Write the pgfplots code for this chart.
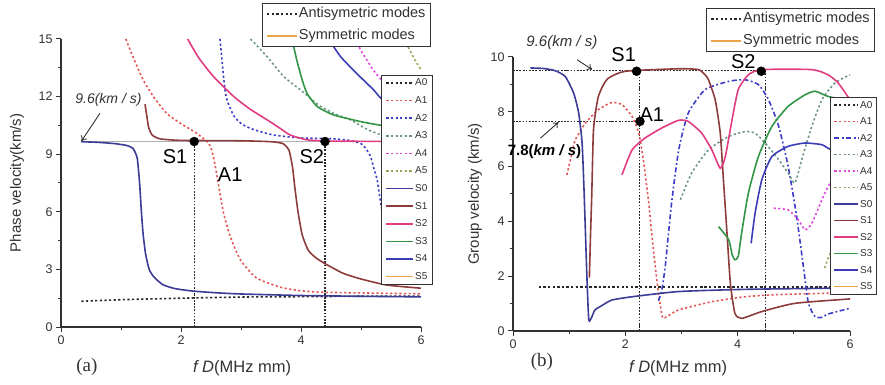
\documentclass[border=0pt]{standalone}
\usepackage{pgfplots}
\pgfplotsset{compat=1.18}
\usetikzlibrary{arrows.meta}
\usepackage{fontspec}
\setmainfont{Liberation Sans}
\newfontfamily\seriffont{Liberation Serif}

\definecolor{cA0}{RGB}{40,40,40}
\definecolor{cA1}{RGB}{228,85,85}
\definecolor{cA2}{RGB}{60,60,200}
\definecolor{cA3}{RGB}{110,150,135}
\definecolor{cA4}{RGB}{225,70,220}
\definecolor{cA5}{RGB}{160,160,90}
\definecolor{cS0}{RGB}{60,60,150}
\definecolor{cS1}{RGB}{140,60,60}
\definecolor{cS2}{RGB}{225,60,130}
\definecolor{cS3}{RGB}{50,150,70}
\definecolor{cS4}{RGB}{60,60,185}
\definecolor{cS5}{RGB}{235,165,70}
\definecolor{axc}{RGB}{50,50,50}

\tikzset{dotsty/.style={line width=1.6pt, dash pattern=on 2.2pt off 2.4pt},
         dashdot/.style={line width=1.6pt, dash pattern=on 5pt off 2.5pt on 1.8pt off 2.5pt},
         solsty/.style={line width=1.6pt},
         guide/.style={line width=1.1pt, black!85, dash pattern=on 1.6pt off 1.6pt}}

\pgfplotsset{myaxis/.style={scale only axis, axis x line*=bottom, axis y line*=left,
   tick align=outside, clip=false,
   axis line style={line width=1.1pt, color=axc, -},
   major tick length=5pt, minor tick length=3pt,
   every tick/.style={line width=1pt, axc},
   tick label style={font=\fontsize{12.5}{13}\selectfont, color=axc},
   /pgf/number format/assume math mode=true,
   xlabel style={font=\fontsize{16.5}{18}\selectfont, color=axc},
   ylabel style={font=\fontsize{15}{16}\selectfont, color=axc},
   minor x tick num=1, minor y tick num=1,
   xmin=0, xmax=6, xtick={0,2,4,6},
   legend cell align=left},
  toplegend/.style={hide axis, scale only axis, xmin=0, xmax=1, ymin=0, ymax=1,
   legend cell align=left,
   legend image code/.code={\draw[##1] (0pt,0pt) -- (30pt,0pt);},
   legend style={draw=axc, line width=1pt, fill=white, font=\fontsize{14.5}{15}\selectfont,
     inner xsep=4pt, inner ysep=3pt, row sep=6.5pt, anchor=north west,
     nodes={inner sep=1pt, text height=10.5pt, text depth=3pt, text=axc}}}}

\begin{document}
\begin{tikzpicture}
\useasboundingbox (0,0) rectangle (885pt,385pt);

%%%%%%%%%%%%%%%% (a) phase velocity
\begin{axis}[myaxis, at={(61pt,58pt)}, anchor=south west, width=360pt, height=288pt,
  ymin=0, ymax=15, ytick={0,3,6,9,12,15},
  xlabel={\textit{f D}(MHz mm)}, ylabel={Phase velocity(km/s)},
  xlabel style={at={(axis description cs:0.503,-0.142)}, anchor=center},
  ylabel style={at={(axis description cs:-0.122,0.5)}, anchor=center},
  every axis plot/.append style={smooth, tension=0.35},
  legend image code/.code={\draw[#1] (0pt,0pt) -- (27pt,0pt);},
  legend style={at={(0.889,0.875)}, anchor=north west, draw=axc, line width=1pt, fill=white,
    font=\fontsize{10}{11}\selectfont, inner xsep=4pt, inner ysep=2pt, row sep=6.6pt,
    nodes={inner sep=1pt, text height=7.5pt, text depth=1.5pt, text=axc}}]
\addplot[gray!60, line width=1.2pt, forget plot] coordinates {(0.34,9.66) (6,9.66)};
\addplot[guide, forget plot] coordinates {(2.22,0) (2.22,9.66)};
\addplot[guide, forget plot] coordinates {(4.4,0) (4.4,9.66)};
% A0
\addplot[cA0, dotsty] coordinates {(0.34,1.34) (1,1.42) (2,1.5) (3,1.56) (4,1.58) (5,1.6) (6,1.6)};
\addlegendentry{A0}
% A1
\addplot[cA1, dotsty] coordinates {(1.08,15.0) (1.21,13.99) (1.37,12.87) (1.54,12.0) (1.76,11.13) (1.99,10.61) (2.26,10.09) (2.46,9.57) (2.54,8.88) (2.63,7.32) (2.71,5.93) (2.82,4.72) (2.99,3.5) (3.26,2.55) (3.71,2.03) (4.27,1.82) (6.0,1.73)};
\addlegendentry{A1}
% A2
\addplot[cA2, dotsty] coordinates {(2.65,15) (2.68,14) (2.71,13.0) (2.74,12.2) (2.78,11.7) (2.88,11.0) (3.0,10.6) (3.15,10.35) (3.35,10.15) (3.54,10.0) (3.8,9.9) (4.0,9.85) (4.54,9.8) (4.8,9.72) (4.99,9.57) (5.08,9.3) (5.16,8.88) (5.22,8.2) (5.27,7.66) (5.32,6.62) (5.36,5.9) (5.45,4.6) (5.6,3.4) (5.8,2.8) (6,2.5)};
\addlegendentry{A2}
% A3
\addplot[cA3, dotsty] coordinates {(3.16,15) (3.43,14.1) (3.71,13.05) (3.99,12.35) (4.32,11.5) (4.6,11.05) (4.82,10.8) (5.1,10.3) (5.34,10.0) (5.6,9.8) (6,9.7)};
\addlegendentry{A3}
% A4
\addplot[cA4, dotsty] coordinates {(4.9,15) (5.0,14.4) (5.1,13.9) (5.2,13.4) (5.34,12.87) (5.5,12.3) (6,11.5)};
\addlegendentry{A4}
% A5
\addplot[cA5, dotsty] coordinates {(5.71,15) (5.8,14.5) (5.9,13.9) (6,13.4)};
\addlegendentry{A5}
% S0
\addplot[cS0, solsty] coordinates {(0.34,9.65) (0.6,9.62) (0.9,9.55) (1.1,9.45) (1.2,9.3) (1.27,8.8) (1.31,7.5) (1.34,6) (1.37,4.8) (1.41,3.8) (1.47,3.0) (1.55,2.6) (1.7,2.2) (1.9,2.0) (2.2,1.87) (2.6,1.78) (3,1.72) (4,1.64) (5,1.6) (6,1.57)};
\addlegendentry{S0}
% S1
\addplot[cS1, solsty] coordinates {(1.4,11.6) (1.43,11.0) (1.46,10.4) (1.52,10.0) (1.65,9.8) (2,9.72) (3,9.7) (3.5,9.65) (3.7,9.55) (3.8,9.2) (3.86,8.3) (3.9,7.2) (3.95,6.0) (4.02,4.8) (4.12,4.0) (4.25,3.6) (4.4,3.3) (4.7,2.8) (5.0,2.5) (5.4,2.2) (5.7,2.1) (6,2.02)};
\addlegendentry{S1}
% S2
\addplot[cS2, solsty] coordinates {(2.11,15) (2.3,14.0) (2.54,13.05) (2.88,12.0) (3.15,11.35) (3.43,10.8) (3.65,10.35) (3.82,10.0) (4.1,9.75) (4.54,9.68) (6,9.66)};
\addlegendentry{S2}
% S3
\addplot[cS3, solsty] coordinates {(3.85,15) (3.93,13.9) (4.02,12.87) (4.1,12.17) (4.27,11.48) (4.54,11.05) (4.99,10.7) (5.34,10.5) (5.6,10.4) (6,10.3)};
\addlegendentry{S3}
% S4
\addplot[cS4, solsty] coordinates {(4.46,15) (4.66,14.08) (4.93,13.2) (5.21,12.35) (5.34,11.9) (5.6,11.6) (6,11.3)};
\addlegendentry{S4}
\addlegendimage{cS5, solsty}
\addlegendentry{S5}
\addplot[only marks, mark=*, mark size=4.5pt, black, forget plot] coordinates {(2.22,9.66) (4.4,9.66)};
\node[font=\fontsize{20}{22}\selectfont, text=black] at (axis cs:1.9,8.88) {S1};
\node[font=\fontsize{20}{22}\selectfont, text=black] at (axis cs:2.82,7.92) {A1};
\node[font=\fontsize{20}{22}\selectfont, text=black] at (axis cs:4.18,8.88) {S2};
\node[font=\fontsize{14}{15}\selectfont, text=axc] at (axis cs:0.79,11.83) {\textit{9.6(km / s)}};
\draw[-{To[length=5pt,width=7pt]}, line width=0.9pt, axc] (axis cs:0.65,11.13) -- (axis cs:0.34,9.68);
\node[font=\seriffont\fontsize{19}{20}\selectfont, text=axc] at (axis description cs:0.072,-0.139) {(a)};
\end{axis}
\begin{axis}[toplegend, at={(61pt,58pt)}, anchor=south west, width=360pt, height=288pt,
  legend style={at={(0.558,1.125)}}]
\addlegendimage{cA0, dotsty}
\addlegendentry{Antisymetric modes}
\addlegendimage{cS5, solsty}
\addlegendentry{Symmetric modes}
\end{axis}

%%%%%%%%%%%%%%%% (b) group velocity
\begin{axis}[myaxis, at={(513pt,54pt)}, anchor=south west, width=337pt, height=274pt,
  ymin=0, ymax=10, ytick={0,2,4,6,8,10},
  xlabel={\textit{f D}(MHz mm)}, ylabel={Group velocity (km/s)},
  xlabel style={at={(axis description cs:0.49,-0.135)}, anchor=center},
  ylabel style={at={(axis description cs:-0.113,0.5)}, anchor=center},
  every axis plot/.append style={smooth, tension=0.35},
  legend image code/.code={\draw[#1] (0pt,0pt) -- (24pt,0pt);},
  legend style={at={(0.941,0.854)}, anchor=north west, draw=axc, line width=1pt, fill=white,
    font=\fontsize{10}{11}\selectfont, inner xsep=3pt, inner ysep=2pt, row sep=5.5pt,
    nodes={inner sep=1pt, text height=7.5pt, text depth=1.5pt, text=axc}}]
\addplot[guide, forget plot] coordinates {(0,9.5) (4.42,9.5)};
\addplot[guide, forget plot] coordinates {(0,7.65) (2.26,7.65)};
\addplot[guide, forget plot] coordinates {(2.26,0) (2.26,9.5)};
\addplot[guide, forget plot] coordinates {(4.49,0) (4.49,9.5)};
% A0
\addplot[cA0, dotsty] coordinates {(0.46,1.6) (6,1.6)};
\addlegendentry{A0}
% A1
\addplot[cA1, dotsty] coordinates {(0.96,5.7) (1.05,6.5) (1.11,6.98) (1.29,7.59) (1.52,8.08) (1.76,8.34) (1.94,8.26) (2.12,7.83) (2.24,7.22) (2.32,6.25) (2.41,4.79) (2.5,2.96) (2.59,1.38) (2.65,0.6) (2.68,0.46) (2.8,0.6) (2.95,0.77) (3.54,1.07) (4.13,1.25) (4.73,1.33) (6,1.4)};
\addlegendentry{A1}
% A2
\addplot[cA2, dashdot] coordinates {(2.59,1.1) (2.65,1.5) (2.71,2.35) (2.77,3.6) (2.83,4.79) (2.95,6.61) (3.12,7.95) (3.42,8.81) (3.84,9.11) (4.13,9.17) (4.37,8.99) (4.55,8.44) (4.73,7.47) (4.9,6.0) (5.05,4.18) (5.17,2.35) (5.26,1.01) (5.38,0.52) (5.5,0.5) (5.61,0.62) (6,0.83)};
\addlegendentry{A2}
% A3
\addplot[cA3, dotsty] coordinates {(2.98,4.79) (3.18,5.76) (3.48,6.61) (3.84,7.1) (4.13,7.28) (4.31,7.22) (4.49,6.86) (4.73,6.25) (4.9,5.76) (5.02,5.4) (5.14,6.25) (5.32,7.47) (5.5,8.44) (5.73,9.05) (6,9.35)};
\addlegendentry{A3}
% A4
\addplot[cA4, dotsty] coordinates {(4.64,4.48) (4.9,4.42) (5.08,4.06) (5.2,3.69) (5.32,3.93) (5.5,4.79) (5.61,5.27) (5.8,5.9) (6,6.5)};
\addlegendentry{A4}
% A5
\addplot[cA5, dotsty] coordinates {(5.55,2.3) (5.62,2.7) (5.8,3.5) (6,4.2)};
\addlegendentry{A5}
% S0
\addplot[cS0, solsty] coordinates {(0.31,9.6) (0.55,9.58) (0.75,9.5) (0.93,9.29) (1.08,8.68) (1.17,7.95) (1.23,6.86) (1.26,5.4) (1.29,3.57) (1.32,1.74) (1.35,0.4) (1.4,0.5) (1.46,0.77) (1.6,0.95) (1.76,1.13) (2.12,1.25) (2.95,1.44) (4.13,1.52) (5.61,1.56) (6,1.56)};
\addlegendentry{S0}
% S1
\addplot[cS1, solsty] coordinates {(1.36,1.95) (1.38,3.5) (1.4,4.79) (1.43,7.22) (1.47,8.0) (1.52,8.56) (1.6,8.95) (1.7,9.23) (2.0,9.48) (2.95,9.57) (3.3,9.54) (3.42,9.35) (3.48,9.17) (3.6,8.44) (3.69,7.22) (3.75,5.4) (3.81,3.57) (3.87,1.74) (3.95,0.65) (4.07,0.46) (4.43,0.71) (5.02,1.01) (6,1.17)};
\addlegendentry{S1}
% S2
\addplot[cS2, solsty] coordinates {(1.94,5.7) (2.12,6.61) (2.35,7.04) (2.65,7.41) (2.95,7.69) (3.12,7.65) (3.36,7.22) (3.54,6.61) (3.69,5.94) (3.78,6.37) (3.9,7.71) (4.01,8.81) (4.19,9.35) (4.43,9.54) (5.32,9.54) (5.61,9.35) (5.79,9.05) (6,8.44)};
\addlegendentry{S2}
% S3
\addplot[cS3, solsty] coordinates {(3.66,3.81) (3.84,3.33) (3.9,2.8) (3.95,2.6) (4.01,2.72) (4.07,3.57) (4.19,5.03) (4.37,6.37) (4.61,7.47) (4.9,8.2) (5.2,8.62) (5.38,8.75) (5.61,8.56) (6,8.4)};
\addlegendentry{S3}
% S4
\addplot[cS4, solsty] coordinates {(4.24,3.2) (4.31,4.3) (4.43,5.52) (4.61,6.37) (4.9,6.74) (5.2,6.86) (5.5,6.8) (5.61,6.67) (6,6.3)};
\addlegendentry{S4}
\addlegendimage{cS5, solsty}
\addlegendentry{S5}
\addplot[only marks, mark=*, mark size=4.5pt, black, forget plot] coordinates {(2.2,9.48) (4.42,9.48) (2.26,7.65)};
\node[font=\fontsize{20}{22}\selectfont, text=black] at (axis cs:1.97,10.09) {S1};
\node[font=\fontsize{20}{22}\selectfont, text=black] at (axis cs:4.1,9.84) {S2};
\node[font=\fontsize{20}{22}\selectfont, text=black] at (axis cs:2.47,7.89) {A1};
\node[font=\fontsize{15}{16}\selectfont, text=axc] at (axis cs:0.87,10.51) {\textit{9.6(km / s)}};
\draw[-{To[length=5pt,width=7pt]}, line width=0.9pt, axc] (axis cs:1.14,9.9) -- (axis cs:1.41,9.54);
\node[font=\fontsize{15}{16}\selectfont, text=black] at (axis cs:0.56,6.55) {\textbf{7.8(\textit{km / s})}};
\draw[-{To[length=5pt,width=7pt]}, line width=0.9pt, axc] (axis cs:0.49,7.04) -- (axis cs:0.81,7.62);
\node[font=\seriffont\fontsize{19}{20}\selectfont, text=axc] at (axis description cs:0.086,-0.113) {(b)};
\end{axis}
\begin{axis}[toplegend, at={(513pt,54pt)}, anchor=south west, width=337pt, height=274pt,
  legend style={at={(0.573,1.179)}}]
\addlegendimage{cA0, dotsty}
\addlegendentry{Antisymetric modes}
\addlegendimage{cS5, solsty}
\addlegendentry{Symmetric modes}
\end{axis}
\end{tikzpicture}
\end{document}
